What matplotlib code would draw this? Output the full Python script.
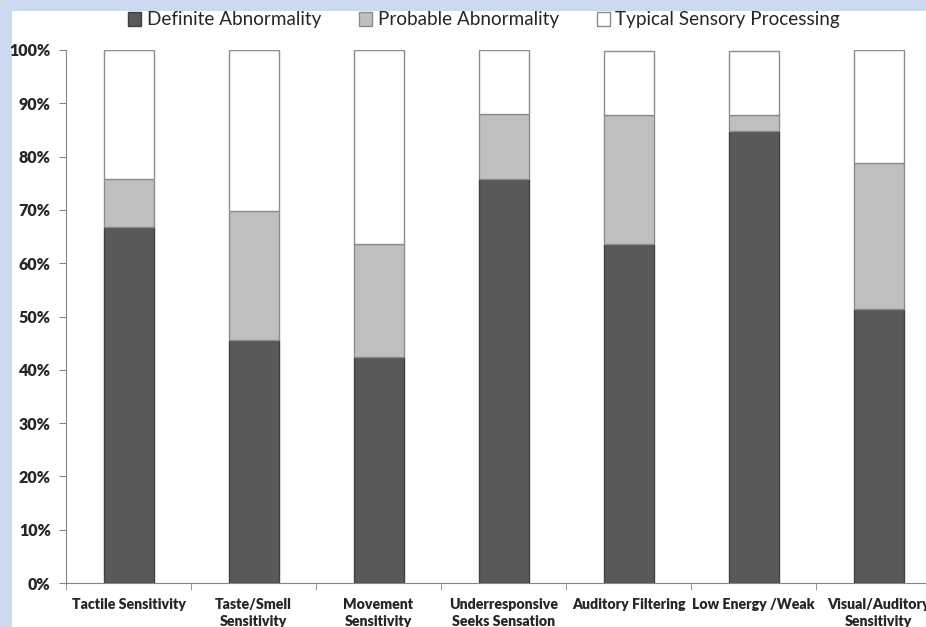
import matplotlib
matplotlib.use("Agg")
from matplotlib import pyplot as plt
from matplotlib.patches import Rectangle
import numpy as np

categories = ["Tactile Sensitivity", "Taste/Smell\nSensitivity", "Movement\nSensitivity",
              "Underresponsive\nSeeks Sensation", "Auditory Filtering", "Low Energy /Weak",
              "Visual/Auditory\nSensitivity"]
definite = [66.7, 45.5, 42.4, 75.8, 63.6, 84.8, 51.5]
probable = [9.1, 24.2, 21.2, 12.1, 24.2, 3.0, 27.3]
typical = [24.2, 30.3, 36.4, 12.1, 12.1, 12.1, 21.2]

plt.rcParams['font.family'] = ['Lato', 'DejaVu Sans']

fig = plt.figure(figsize=(9.26, 6.27), dpi=100)
fig.patch.set_facecolor('#cdd9ee')
fig.add_artist(Rectangle((12/926, 0), 1, 1 - 11/627, transform=fig.transFigure,
                         facecolor='white', edgecolor='none', zorder=0))

ax = fig.add_axes([66/926, 1 - 583/627, 875/926, (583 - 50)/627])
ax.set_facecolor('none')

x = np.arange(len(categories))
d = np.array(definite) / 100
p = np.array(probable) / 100
t = np.array(typical) / 100
w = 0.4
ax.bar(x, d, w, color='#595959', edgecolor='#404040', linewidth=1, label='Definite Abnormality')
ax.bar(x, p, w, bottom=d, color='#bfbfbf', edgecolor='#8c8c8c', linewidth=1, label='Probable Abnormality')
ax.bar(x, t, w, bottom=d + p, color='white', edgecolor='#8c8c8c', linewidth=1, label='Typical Sensory Processing')

ax.set_xlim(-0.5, len(categories) - 0.5)
ax.set_ylim(0, 1)
ax.set_yticks(np.arange(0, 1.01, 0.1))
ax.set_yticklabels([f"{int(v)}%" for v in np.arange(0, 101, 10)], fontweight='heavy', fontsize=11.5, color='#262626')

ax.set_xticks(x)
ax.set_xticklabels(categories, fontweight='heavy', fontsize=10.2, color='#262626', va='top',
                   linespacing=1.3)
ax.set_xticks(np.arange(-0.5, len(categories), 1), minor=True)
ax.tick_params(axis='x', which='major', length=0, pad=11)
ax.tick_params(axis='x', which='minor', length=5, color='#868686')
ax.tick_params(axis='y', length=5, color='#868686', pad=6)

for s in ['top', 'right']:
    ax.spines[s].set_visible(False)
for s in ['left', 'bottom']:
    ax.spines[s].set_color('#868686')

leg = fig.legend(loc='center', bbox_to_anchor=(484/926, 1 - 20/627), ncol=3, frameon=False,
                 fontsize=13.6, handlelength=0.7, handleheight=0.7, handletextpad=0.3,
                 columnspacing=2.0)
for txt in leg.get_texts():
    txt.set_color('#262626')

fig.savefig("out.png", dpi=100, facecolor=fig.get_facecolor())
